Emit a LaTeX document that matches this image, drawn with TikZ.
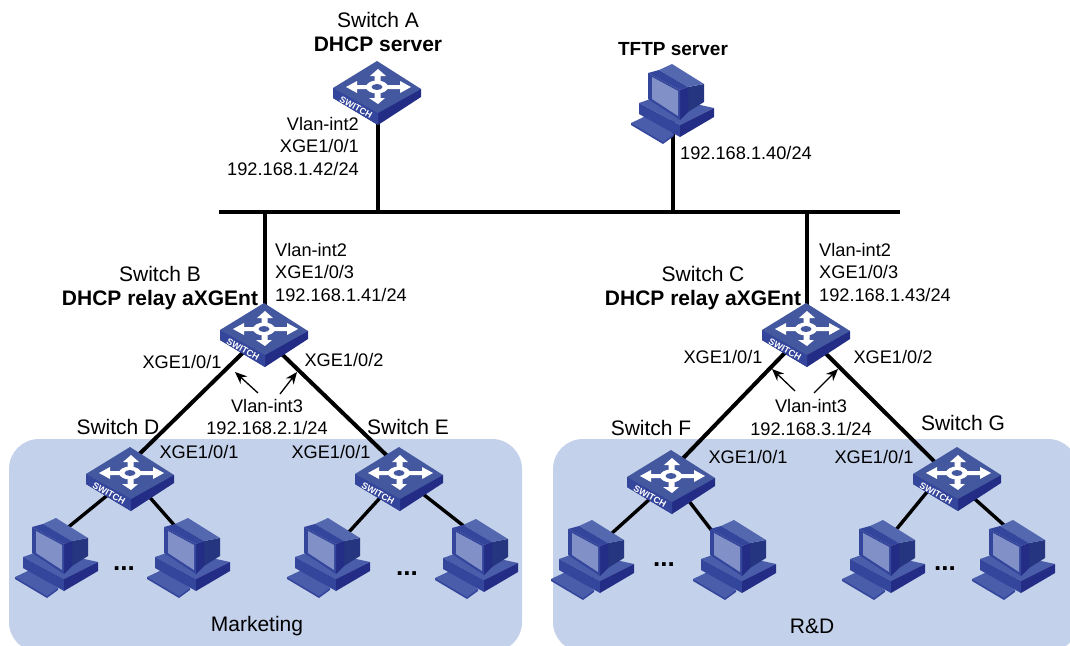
\documentclass[tikz,border=0pt]{standalone}
\usepackage{fontspec}
\setmainfont{Liberation Sans}
\usetikzlibrary{arrows.meta}
\definecolor{panelblue}{HTML}{C3D1EA}
\definecolor{icontop}{HTML}{44589F}
\definecolor{iconfront}{HTML}{34459C}
\definecolor{iconside}{HTML}{232D85}
\definecolor{iconmid}{HTML}{4A5DAB}
\definecolor{iconlight}{HTML}{5468B0}
\definecolor{iconrear}{HTML}{26357F}
\definecolor{iconscreen}{HTML}{8290C8}
\tikzset{
  lbl/.style={inner sep=0pt,font=\fontsize{18.2}{22.5}\selectfont},
  addr/.style={inner sep=0pt,align=left,font=\fontsize{18.2}{22.5}\selectfont},
  devname/.style={inner sep=0pt,align=center,font=\fontsize{21}{24.5}\selectfont},
  hostdots/.style={inner sep=0pt,anchor=base,font=\bfseries\fontsize{26}{26}\selectfont},
  panel/.style={fill=panelblue,rounded corners=30pt},
  bus/.style={line width=3.6pt},
  link/.style={line width=4pt},
  pclink/.style={line width=3.4pt},
  callout/.style={-{Stealth[length=12pt,width=10pt]},line width=1.3pt},
  switchicon/.pic={
    \fill[iconside] (-45,-2) -- (-45,8) -- (0,35) -- (43,7) -- (43,-1) -- cycle;
    \fill[iconfront] (-45,-2) -- (-45,8) -- (0,35) -- (0,23) -- cycle;
    \fill[icontop] (-45,-2) -- (-1,-29) -- (43,-1) -- (0,23) -- cycle;
    % four white arrows and the ring
    \begin{scope}[shift={(-1,-3)}]
      \fill[white] (1,-18) -- (9,-11) -- (3.5,-11) -- (3.5,-2) -- (23,-2) -- (23,-6) -- (34,0)
        -- (23,6) -- (23,2) -- (3.5,2) -- (3.5,11) -- (8,11) -- (1,17) -- (-8,11) -- (-2.5,11)
        -- (-2.5,2) -- (-20,2) -- (-20,6) -- (-31,0) -- (-20,-6) -- (-20,-2) -- (-2.5,-2)
        -- (-2.5,-11) -- (-7,-11) -- cycle;
      \fill[white] (0,0) ellipse (11pt and 6.5pt);
      \fill[icontop] (0,0) ellipse (5.5pt and 3pt);
    \end{scope}
    \node (tag) at (-22,17) [rotate=-29,inner sep=0pt,text=white,font=\bfseries\fontsize{9}{9}\selectfont] {SWITCH};
  },
  pcicon/.pic={
    % keyboard
    \fill[iconfront] (-42,17) -- (-42,19) -- (-10,38) -- (1,30) -- (1,28) -- cycle;
    \fill[iconmid] (-42,17) -- (-25,9) -- (1,28) -- (-10,36) -- cycle;
    % base
    \fill[iconmid] (-34,-3) -- (-14,-10) -- (41,2) -- (7,19) -- cycle;
    \fill[iconfront] (-34,-3) -- (-34,8) -- (7,31) -- (7,19) -- cycle;
    \fill[iconside] (7,19) -- (7,31) -- (41,11) -- (41,2) -- cycle;
    % monitor
    \fill[iconrear] (15,-19) -- (31,-22) -- (31,-4) -- (15,6) -- cycle;
    \fill[iconlight] (-14,-36) -- (-1,-42) -- (31,-22) -- (15,-19) -- cycle;
    \fill[iconfront] (-25,-33) -- (-14,-36) -- (15,-19) -- (7,-16) -- cycle;
    \fill[iconside] (7,-16) -- (15,-19) -- (15,6) -- (7,14) -- cycle;
    \fill[iconfront] (-25,-33) -- (7,-16) -- (7,14) -- (-25,-7) -- cycle;
    \fill[iconscreen] (-21,-29) -- (5,-15) -- (5,10) -- (-21,-7) -- cycle;
  }
}
\begin{document}
\begin{tikzpicture}[x=1pt,y=-1pt]
    \useasboundingbox (0,0) rectangle (1070,645);
    \clip (0,0) rectangle (1070,645);

    % Department areas
    \fill[panel] (9,439) rectangle (522,652);
    \fill[panel] (553,439) rectangle (1078,652);

    % Device positions
    \coordinate (busL) at (219,212);
    \coordinate (busR) at (900,212);
    \coordinate (swA) at (378,90);
    \coordinate (swB) at (265,332);
    \coordinate (swC) at (807,332);
    \coordinate (swD) at (131,476);
    \coordinate (swE) at (400,476);
    \coordinate (swF) at (672,479);
    \coordinate (swG) at (958,476);
    \coordinate (pcT) at (673,106);
    \coordinate (pcDa) at (57,560);
    \coordinate (pcDb) at (189,560);
    \coordinate (pcEa) at (329,560);
    \coordinate (pcEb) at (477,561);
    \coordinate (pcFa) at (593,562);
    \coordinate (pcFb) at (735,562);
    \coordinate (pcGa) at (884,562);
    \coordinate (pcGb) at (1014,562);

    % Bus and uplinks
    \draw[bus] (busL) -- (busR);
    \draw[link] (swA) -- (swA |- busL);
    \draw[link] (pcT) -- (pcT |- busL);
    \draw[link] (swB) -- (swB |- busL);
    \draw[link] (swC) -- (swC |- busL);

    % Switch to switch
    \draw[link] ([shift={(-1,0)}]swB) -- ([shift={(-14,0)}]swD);
    \draw[link] ([shift={(-6,0)}]swB) -- ([shift={(8,0)}]swE);
    \draw[link] ([shift={(-2,0)}]swC) -- ([shift={(-9,0)}]swF);
    \draw[link] ([shift={(-3,0)}]swC) -- ([shift={(-9,0)}]swG);

    % Switch to host
    \draw[pclink] (swD) -- ([shift={(9,-31)}]pcDa);
    \draw[pclink] (swD) -- ([shift={(-14,-34)}]pcDb);
    \draw[pclink] (swE) -- ([shift={(19,-27)}]pcEa);
    \draw[pclink] (swE) -- ([shift={(-12,-34)}]pcEb);
    \draw[pclink] (swF) -- ([shift={(18,-28)}]pcFa);
    \draw[pclink] (swF) -- ([shift={(-23,-31)}]pcFb);
    \draw[pclink] ([shift={(-13,-6)}]swG) -- ([shift={(11,-31)}]pcGa);
    \draw[pclink] ([shift={(0,8)}]swG) -- ([shift={(-9,-36)}]pcGb);

    % Icons
    \pic (iconA) at (swA) {switchicon};
    \pic (iconB) at (swB) {switchicon};
    \pic (iconC) at (swC) {switchicon};
    \pic (iconD) at (swD) {switchicon};
    \pic (iconE) at (swE) {switchicon};
    \pic (iconF) at (swF) {switchicon};
    \pic (iconG) at (swG) {switchicon};
    \pic at (pcT) {pcicon};
    \pic at (pcDa) {pcicon};
    \pic at (pcDb) {pcicon};
    \pic at (pcEa) {pcicon};
    \pic at (pcEb) {pcicon};
    \pic at (pcFa) {pcicon};
    \pic at (pcFb) {pcicon};
    \pic at (pcGa) {pcicon};
    \pic at (pcGb) {pcicon};

    % Device names
    \node[devname] (nameA) at (378,32) {Switch A\\\textbf{DHCP server}};
    \node[devname,font=\fontsize{19}{24}\selectfont] (nameT) at (673,49) {\textbf{TFTP server}};
    \node[devname] (nameB) at (160,288) {Switch B\\\textbf{DHCP relay aXGEnt}};
    \node[devname] (nameC) at (703,288) {Switch C\\\textbf{DHCP relay aXGEnt}};
    \node[devname] (nameD) at (118,427) {Switch D};
    \node[devname] (nameE) at (408,427) {Switch E};
    \node[devname] (nameF) at (651,428) {Switch F};
    \node[devname] (nameG) at (963,423) {Switch G};

    % Addresses
    \node[addr,align=right,anchor=east] (addrA) at (359,146) {Vlan-int2\\XGE1/0/1\\192.168.1.42/24};
    \node[addr,anchor=west] (addrT) at (680,153) {192.168.1.40/24};
    \node[addr,anchor=west] (addrB) at (275,272) {Vlan-int2\\XGE1/0/3\\192.168.1.41/24};
    \node[addr,anchor=west] (addrC) at (819,272) {Vlan-int2\\XGE1/0/3\\192.168.1.43/24};

    % Port labels
    \node[lbl] (portBa) at (182,362) {XGE1/0/1};
    \node[lbl] (portBb) at (344,360) {XGE1/0/2};
    \node[lbl] (portCa) at (723,357) {XGE1/0/1};
    \node[lbl] (portCb) at (893,357) {XGE1/0/2};
    \node[lbl] (portD) at (199,452) {XGE1/0/1};
    \node[lbl] (portE) at (331,452) {XGE1/0/1};
    \node[lbl] (portF) at (748,457) {XGE1/0/1};
    \node[lbl] (portG) at (874,457) {XGE1/0/1};

    % Gateway labels and their arrows
    \node[addr,align=center] (vlanB) at (267,417) {Vlan-int3\\192.168.2.1/24};
    \node[addr,align=center] (vlanC) at (811,417.5) {Vlan-int3\\192.168.3.1/24};
    \coordinate (tailBa) at (258,393);
    \coordinate (tipBa) at (235,372);
    \coordinate (tailBb) at (280,394);
    \coordinate (tipBb) at (297,372);
    \coordinate (tailCa) at (795,391);
    \coordinate (tipCa) at (772,369);
    \coordinate (tailCb) at (814,393);
    \coordinate (tipCb) at (838,369);
    \draw[callout] (tailBa) -- (tipBa);
    \draw[callout] (tailBb) -- (tipBb);
    \draw[callout] (tailCa) -- (tipCa);
    \draw[callout] (tailCb) -- (tipCb);

    % Host dots
    \node[hostdots] (dotsD) at (124,570) {...};
    \node[hostdots] (dotsE) at (407,575) {...};
    \node[hostdots] (dotsF) at (664,566) {...};
    \node[hostdots] (dotsG) at (945,570) {...};

    % Department names
    \node[devname] (deptM) at (257,626) {Marketing};
    \node[devname] (deptR) at (812,626) {R\&D};
\end{tikzpicture}
\end{document}
